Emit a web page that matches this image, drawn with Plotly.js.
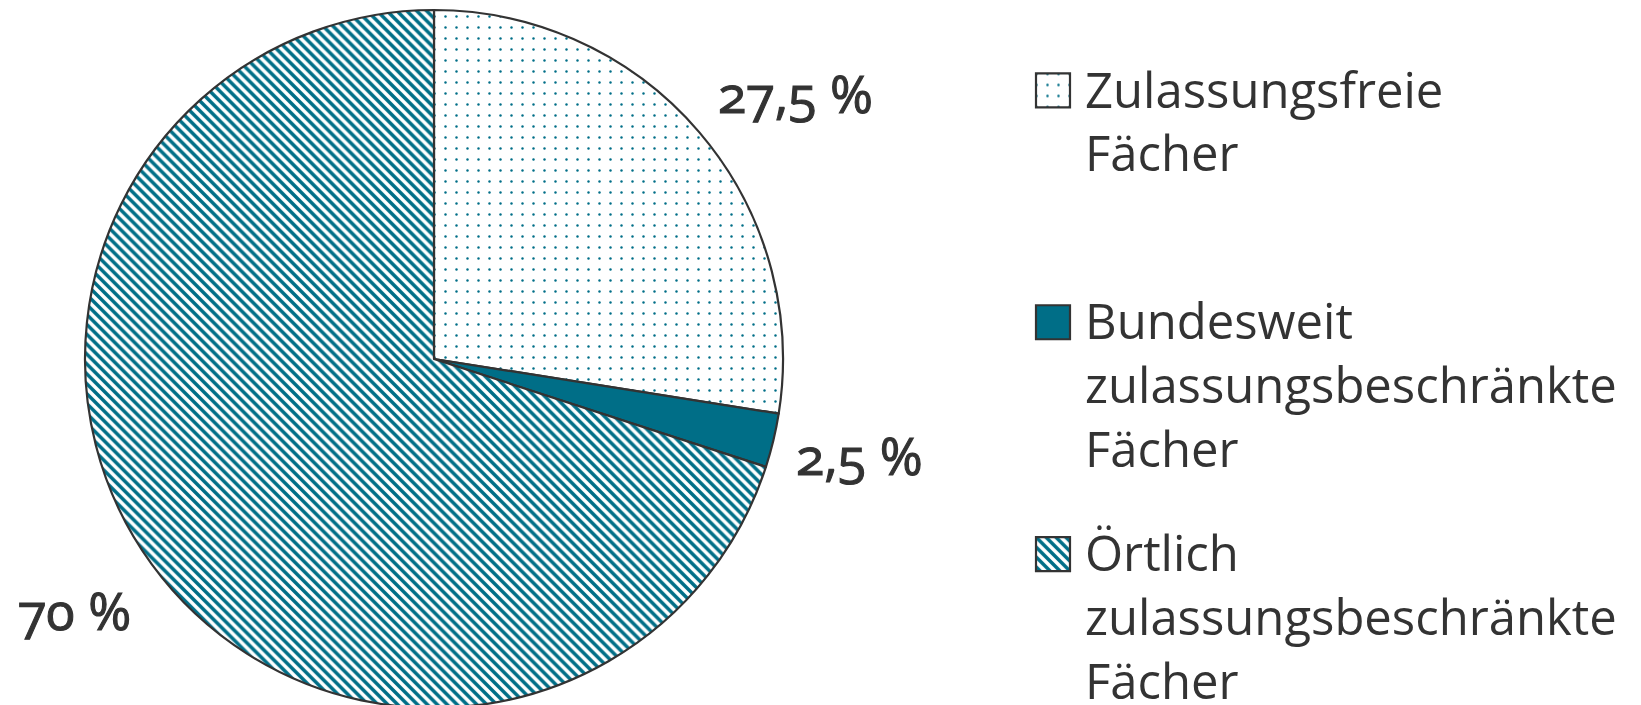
<!DOCTYPE html>
<html>
<head>
<meta charset="utf-8">
<script src="https://cdn.plot.ly/plotly-3.0.1.min.js"></script>
<style>
  html, body { margin: 0; padding: 0; overflow: hidden; background: #fff; }
  #chart { width: 1641px; height: 708px; }
  .annotation-text { font-feature-settings: "onum"; stroke: #333333; stroke-width: 1.1px; }
  .legend .legendtext { font-size: 49px !important; }
  .legend .scrollbox { clip-path: none !important; }
</style>
</head>
<body>
<div id="chart"></div>
<script>
// ---- data ----
const categories = [
  "Zulassungsfreie Fächer",
  "Bundesweit zulassungsbeschränkte Fächer",
  "Örtlich zulassungsbeschränkte Fächer"
];
const legendLabels = [
  "Zulassungsfreie<br>Fächer<br>\u00a0<br>\u00a0",
  "Bundesweit<br>zulassungsbeschränkte<br>Fächer<br>\u00a0",
  "Örtlich<br>zulassungsbeschränkte<br>Fächer"
];
const shares = [27.5, 2.5, 70];
const patterns = [".", "", "\\"];

const teal = "#006E87";
const ink = "#333333";

function fmt(v) { return String(v).replace(".", ",") + " %"; }

// label anchor positions (paper coords)
const labelPos = [
  {x: 0.4845, y: 0.8825},
  {x: 0.5235, y: 0.3625},
  {x: 0.0457, y: 0.1418}
];

const trace = {
  type: "pie",
  labels: legendLabels,
  values: shares,
  sort: false,
  direction: "clockwise",
  rotation: 0,
  textinfo: "none",
  hoverinfo: "skip",
  domain: {x: [0, 868 / 1641], y: [0, 1]},
  marker: {
    colors: [teal, teal, teal],
    line: {color: ink, width: 2.2},
    pattern: {
      shape: patterns,
      fgcolor: teal,
      bgcolor: "#ffffff",
      fillmode: "replace",
      size: [11, 8, 7],
      solidity: [0.04, 0.5, 0.5]
    }
  }
};

const annotations = shares.map((v, i) => ({
  xref: "paper", yref: "paper",
  x: labelPos[i].x, y: labelPos[i].y,
  xanchor: "center", yanchor: "middle",
  text: fmt(v),
  showarrow: false,
  font: {family: "Open Sans", size: 52, color: ink}
}));

const layout = {
  width: 1641, height: 708,
  margin: {l: 0, r: 0, t: 10, b: 0},
  paper_bgcolor: "#ffffff",
  plot_bgcolor: "#ffffff",
  showlegend: true,
  legend: {
    x: 1021 / 1641, xanchor: "left",
    y: 0.935, yanchor: "top",
    valign: "top",
    itemwidth: 54,
    bgcolor: "rgba(0,0,0,0)",
    font: {family: "Open Sans", size: 44, color: ink}
  },
  annotations: annotations
};

Plotly.newPlot("chart", [trace], layout, {displayModeBar: false, staticPlot: true}).then(function (gd) {
  // enlarge the legend swatches to match the reference
  gd.querySelectorAll(".legend path.legendpie").forEach(function (p) {
    p.setAttribute("d", "M17,17H-17V-17H17Z");
  });
});
</script>
</body>
</html>
